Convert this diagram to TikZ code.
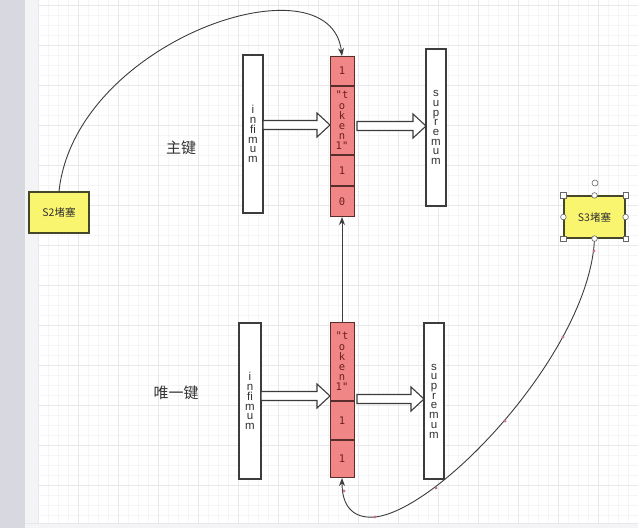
\documentclass[tikz,border=0pt]{standalone}
\usepackage{fontspec}
\setmainfont{Liberation Sans}
\newfontfamily\cjk{Noto Sans CJK SC}
\newfontfamily\monof{DejaVu Sans Mono}
\usetikzlibrary{arrows.meta,calc}
\definecolor{linec}{RGB}{60,60,60}
\definecolor{textc}{RGB}{50,50,50}
\definecolor{cellfill}{RGB}{241,134,134}
\definecolor{cellline}{RGB}{90,45,45}
\definecolor{celltext}{RGB}{110,30,30}
\definecolor{yfill}{RGB}{250,245,110}
\definecolor{yline}{RGB}{70,70,40}
\definecolor{gridminor}{RGB}{245,245,248}
\definecolor{gridmajor}{RGB}{232,232,236}
\definecolor{stripc}{RGB}{216,216,224}
\definecolor{stripl}{RGB}{244,244,246}
\definecolor{dotc}{RGB}{200,120,140}
\newcommand\harrow[3]{%
  \draw[hollowarrow] (#1,#3-4.5) -- (#2-13,#3-4.5) -- (#2-13,#3-12) -- (#2,#3)
    -- (#2-13,#3+12) -- (#2-13,#3+4.5) -- (#1,#3+4.5) -- cycle;}
\begin{document}
\begin{tikzpicture}[x=1pt,y=-1pt,
  box/.style={draw=linec, line width=1.3pt, fill=white, inner sep=0pt,
    align=center, text=textc, font=\fontsize{11.5}{9.7}\selectfont},
  cell/.style={draw=cellline, fill=cellfill, line width=1pt, minimum width=24pt,
    inner sep=0pt, anchor=north, align=center, text=celltext,
    font=\monof\fontsize{10.5}{10.2}\selectfont},
  hollowarrow/.style={draw=linec, fill=white, line width=1.1pt, line join=miter},
  conn/.style={draw=linec, line width=0.9pt},
  ybox/.style={draw=yline, fill=yfill, line width=1.2pt, inner sep=0pt,
    text=textc, font=\cjk\fontsize{10.5}{11}\selectfont},
  lbl/.style={text=textc, font=\cjk\fontsize{15}{15}\selectfont},
  handle/.style={draw=gray!80!black, fill=white, line width=0.6pt},
  tip/.style={-{Stealth[length=8pt,width=6pt]}}
]
\useasboundingbox (0,0) rectangle (638,528);
\fill[white] (0,0) rectangle (638,528);
% grid
\foreach \x in {38,48,...,638} \draw[gridminor, line width=0.5pt] (\x,0) -- (\x,523);
\foreach \y in {5,15,...,523} \draw[gridminor, line width=0.5pt] (38,\y) -- (638,\y);
\foreach \x in {38,78,...,638} \draw[gridmajor, line width=0.6pt] (\x,0) -- (\x,523);
\foreach \y in {5,45,...,523} \draw[gridmajor, line width=0.6pt] (38,\y) -- (638,\y);
% side strips
\fill[stripc] (0,0) rectangle (25,528);
\fill[stripl] (25,0) rectangle (38,528);
\fill[stripl] (25,523) rectangle (638,528);
\draw[gridmajor] (25,523) -- (638,523);

% ---- top group ----
\node[box, minimum width=20pt, minimum height=158pt] (inf1) at (253,134) {i\\n\\fi\\m\\u\\m};
\node[box, minimum width=20pt, minimum height=157pt] (sup1) at (436,127.5) {s\\u\\p\\r\\e\\m\\u\\m};
\node[cell, minimum height=29pt] (r1a) at (342,56) {1};
\node[cell, minimum height=68pt] (r1b) at (r1a.south) {"t\\o\\k\\e\\n\\1"};
\node[cell, minimum height=30pt] (r1c) at (r1b.south) {1};
\node[cell, minimum height=30pt] (r1d) at (r1c.south) {0};
\harrow{263}{330}{125}
\harrow{357}{426}{126}
\node[lbl] (lbl1) at (181,148) {主键};

% ---- bottom group ----
\node[box, minimum width=22pt, minimum height=156pt] (inf2) at (250,401) {i\\n\\fi\\m\\u\\m};
\node[box, minimum width=20pt, minimum height=156pt] (sup2) at (434,401) {s\\u\\p\\r\\e\\m\\u\\m};
\node[cell, minimum height=78pt] (r2a) at (342,322) {"t\\o\\k\\e\\n\\1"};
\node[cell, minimum height=38pt] (r2b) at (r2a.south) {1};
\node[cell, minimum height=37pt] (r2c) at (r2b.south) {1};
\harrow{261}{330}{396}
\harrow{357}{424}{399}
\node[lbl] (lbl2) at (176,393) {唯一键};

\draw[conn, tip] (r2a.north) -- (r1d.south);

% ---- S2 / S3 ----
\node[ybox, minimum width=60pt, minimum height=41pt] (s2) at (59,212.5) {S2堵塞};
\node[ybox, minimum width=61pt, minimum height=42pt] (s3) at (594.5,217) {S3堵塞};

\draw[conn, tip] (s2.north) .. controls (75,40) and (330,-45) .. (r1a.north);

\coordinate (c1) at (375,517);
\draw[conn, tip] (s3.south) .. controls (590,350) and (440,510) .. (c1)
  .. controls (352,519) and (342,505) .. (r2c.south);
\foreach \px/\py in {594/251,563/337,505/421,436/488,375/517,344/491}
  \fill[dotc] (\px,\py) circle (1.6pt);

% selection handles on S3
\foreach \a in {north west,north east,south west,south east}
  \draw[handle] ([shift={(-2.7,-2.7)}]s3.\a) rectangle ([shift={(2.7,2.7)}]s3.\a);
\foreach \a in {north,south,west,east}
  \draw[handle] (s3.\a) circle (2.8pt);
\draw[handle] (595,183) circle (3pt);
\end{tikzpicture}
\end{document}
